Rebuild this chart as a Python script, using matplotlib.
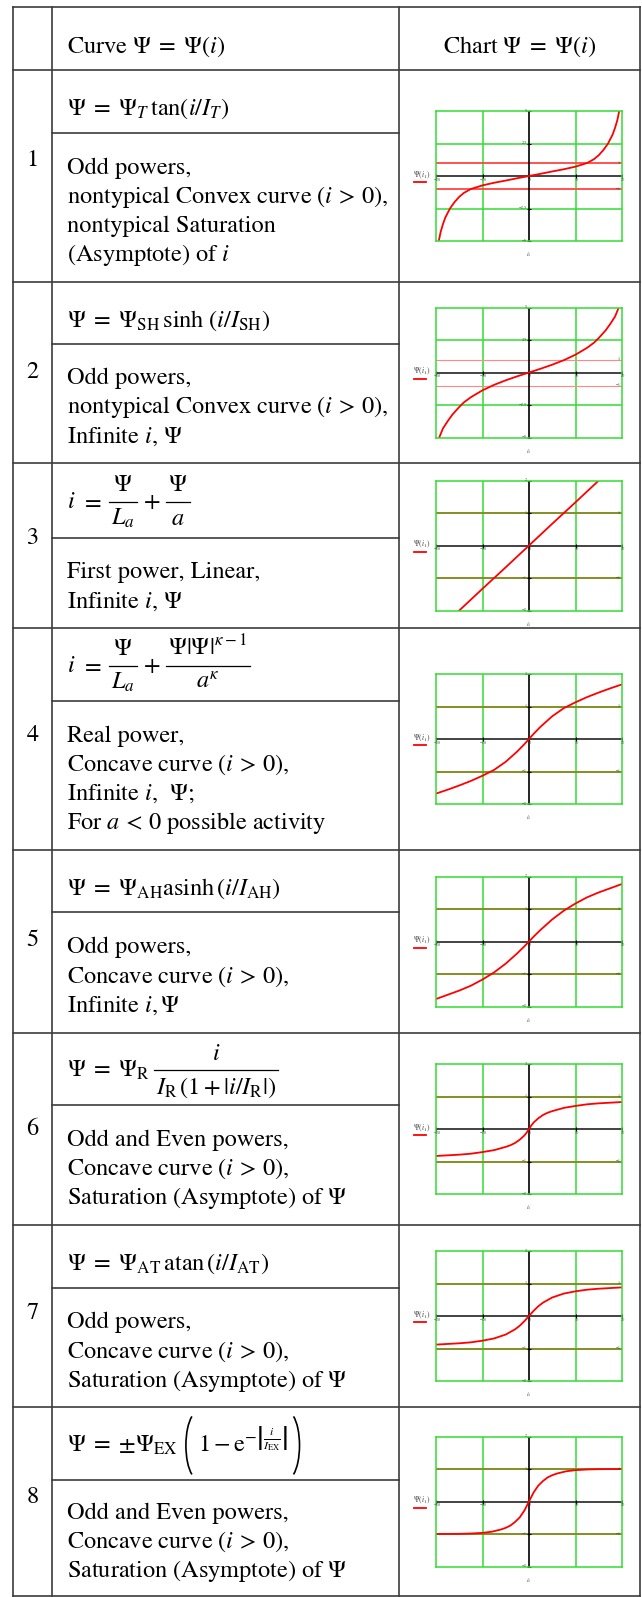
import matplotlib.pyplot as plt
from matplotlib.lines import Line2D
from matplotlib.patches import Arc
import numpy as np

plt.rcParams['font.family'] = ['STIXGeneral', 'DejaVu Serif']
plt.rcParams['mathtext.fontset'] = 'stix'

# ---- table text ----
header_curve = r'Curve $\Psi \;=\; \Psi(i)$'
header_chart = r'Chart $\Psi \;=\; \Psi(i)$'
row_numbers = ['1', '2', '3', '4', '5', '6', '7', '8']
# formulas as runs of pieces: plain math, spaces, fractions, big parentheses
formulas = [
    [('t', r'$\Psi \;=\; \Psi_T\,\tan(i/I_T)$')],
    [('t', r'$\Psi \;=\; \Psi_{\rm SH}\,\sinh\,(i/I_{\rm SH})$')],
    [('t', r'$i$'), ('sp', 6), ('t', r'$=$'), ('sp', 6), ('frac', r'$\Psi$', r'$L_a$'),
     ('sp', 5), ('t', r'$+$'), ('sp', 5), ('frac', r'$\Psi$', r'$a$')],
    [('t', r'$i$'), ('sp', 6), ('t', r'$=$'), ('sp', 6), ('frac', r'$\Psi$', r'$L_a$'),
     ('sp', 5), ('t', r'$+$'), ('sp', 5), ('frac', r'$\Psi|\Psi|^{\kappa-1}$', r'$a^{\kappa}$')],
    [('t', r'$\Psi \;=\; \Psi_{\rm AH}{\rm asinh}\,(i/I_{\rm AH})$')],
    [('t', r'$\Psi \;=\; \Psi_{\rm R}$'), ('sp', 3), ('frac', r'$i$', r'$I_{\rm R}\,(1+|i/I_{\rm R}|)$')],
    [('t', r'$\Psi \;=\; \Psi_{\rm AT}\,{\rm atan}\,(i/I_{\rm AT})$')],
    [('t', r'$\Psi \;=\; {\pm}\Psi_{\rm EX}$'), ('lp',),
     ('t', r'$1 - {\rm e}^{-\left|\frac{i}{I_{\rm EX}}\right|}$'), ('rp',)],
]
descriptions = [
    ['Odd powers,', r'nontypical Convex curve ($i\,>\,0$),', 'nontypical Saturation', r'(Asymptote) of $i$'],
    ['Odd powers,', r'nontypical Convex curve ($i\,>\,0$),', r'Infinite $i$, $\Psi$'],
    ['First power, Linear,', r'Infinite $i$, $\Psi$'],
    ['Real power,', r'Concave curve ($i\,>\,0$),', r'Infinite $i$,  $\Psi$;', r'For $a\,<\,0$ possible activity'],
    ['Odd powers,', r'Concave curve ($i\,>\,0$),', r'Infinite $i, \Psi$'],
    ['Odd and Even powers,', r'Concave curve ($i\,>\,0$),', r'Saturation (Asymptote) of $\Psi$'],
    ['Odd powers,', r'Concave curve ($i\,>\,0$),', r'Saturation (Asymptote) of $\Psi$'],
    ['Odd and Even powers,', r'Concave curve ($i\,>\,0$),', r'Saturation (Asymptote) of $\Psi$'],
]

# ---- curves ----
i_tan = [-19.4, -19, -18.5, -18, -17, -16, -15, -14, -12.5, -10, -7.5, -5, -2.5, 0,
         2.5, 5, 7.5, 10, 12.5, 14, 15, 16, 17, 18, 18.5, 19, 19.4]
psi_tan = [-5.0, -4.3, -3.7, -3.2, -2.5, -2.0, -1.6, -1.3, -1.0, -0.72, -0.52, -0.35, -0.17, 0,
           0.17, 0.35, 0.52, 0.72, 1.0, 1.3, 1.6, 2.0, 2.5, 3.2, 3.7, 4.3, 5.0]

i_sinh = [-19.3, -18.5, -17.5, -16.5, -15, -14, -12.5, -10, -7.5, -5, -2.5, 0,
          2.5, 5, 7.5, 10, 12.5, 14, 15, 16.5, 17.5, 18.5, 19.3]
psi_sinh = [-5.0, -4.3, -3.75, -3.25, -2.65, -2.3, -1.9, -1.37, -0.95, -0.6, -0.29, 0,
            0.29, 0.6, 0.95, 1.37, 1.9, 2.3, 2.65, 3.25, 3.75, 4.3, 5.0]

i_lin = [-15, -10, -5, 0, 5, 10, 15]
psi_lin = [-2.0, -1.33, -0.67, 0, 0.67, 1.33, 2.0]

i_pow = [-20, -17.5, -15, -12.5, -10, -7.5, -5, -2.5, -1, 0, 1, 2.5, 5, 7.5, 10, 12.5, 15, 17.5, 20]
psi_pow = [-1.68, -1.56, -1.43, -1.29, -1.13, -0.95, -0.7, -0.38, -0.16, 0,
           0.16, 0.38, 0.7, 0.95, 1.13, 1.29, 1.43, 1.56, 1.68]

i_asinh = [-20, -17.5, -15, -12.5, -10, -7.5, -5, -2.5, -1, 0, 1, 2.5, 5, 7.5, 10, 12.5, 15, 17.5, 20]
psi_asinh = [-1.77, -1.64, -1.51, -1.36, -1.17, -0.95, -0.68, -0.36, -0.15, 0,
             0.15, 0.36, 0.68, 0.95, 1.17, 1.36, 1.51, 1.64, 1.77]

i_rat = [-20, -17.5, -15, -12.5, -10, -7.5, -5, -4, -3, -2, -1, -0.5, 0,
         0.5, 1, 2, 3, 4, 5, 7.5, 10, 12.5, 15, 17.5, 20]
psi_rat = [-0.83, -0.81, -0.79, -0.76, -0.71, -0.65, -0.55, -0.5, -0.43, -0.33, -0.2, -0.11, 0,
           0.11, 0.2, 0.33, 0.43, 0.5, 0.55, 0.65, 0.71, 0.76, 0.79, 0.81, 0.83]

i_atan = [-20, -17.5, -15, -12.5, -10, -7.5, -5, -3, -2, -1, 0, 1, 2, 3, 5, 7.5, 10, 12.5, 15, 17.5, 20]
psi_atan = [-0.88, -0.86, -0.84, -0.81, -0.76, -0.69, -0.57, -0.41, -0.3, -0.16, 0,
            0.16, 0.3, 0.41, 0.57, 0.69, 0.76, 0.81, 0.84, 0.86, 0.88]

i_exp = [-20, -15, -12.5, -10, -8, -6, -5, -4, -3, -2, -1, 0, 1, 2, 3, 4, 5, 6, 8, 10, 12.5, 15, 20]
psi_exp = [-1.0, -0.995, -0.985, -0.965, -0.93, -0.86, -0.81, -0.74, -0.63, -0.49, -0.28, 0,
           0.28, 0.49, 0.63, 0.74, 0.81, 0.86, 0.93, 0.965, 0.985, 0.995, 1.0]

curves = [(i_tan, psi_tan), (i_sinh, psi_sinh), (i_lin, psi_lin), (i_pow, psi_pow),
          (i_asinh, psi_asinh), (i_rat, psi_rat), (i_atan, psi_atan), (i_exp, psi_exp)]
y_limits = [5, 5, 2, 2, 2, 2, 2, 2]
x_ticks = [-20, -10, 0, 10, 20]
x_tick_labels = ['\u221220', '\u221210', '0', '10', '20']
ref_levels = [1, -1]
ref_labels = ['1', '\u22121']

# ---- layout (pixels) ----
W, H = 642, 1597
col_x = [13, 52, 399, 640]
table_top, header_bottom = 7, 70
row_bounds = [70, 282, 463, 628, 850, 1033, 1225, 1407, 1596]
row_divs = [133, 344, 538, 701, 912, 1105, 1288, 1480]
number_y = [160, 372, 538, 735, 940, 1129, 1313, 1497]
baseline_shift = [13.5, 13.5, 7.5, 7.5, 13.5, 7.5, 13.5, 8]
LINE = '#3c3c3c'
GREEN = '#33dd33'
OLIVE = '#8a8a22'
FS = 17.5
EM = FS * 100 / 72

fig = plt.figure(figsize=(W / 100, H / 100), dpi=100)
bg = fig.add_axes([0, 0, 1, 1])
bg.set_xlim(0, W)
bg.set_ylim(H, 0)
bg.axis('off')
renderer = fig.canvas.get_renderer()


def width_of(t):
    return t.get_window_extent(renderer).width


def place_formula(x, yb, pieces):
    axis_y = yb - 0.25 * EM
    # big parenthesis: ellipse arc, parametric half-angle 60 deg
    pa, pb = 12, 33.5
    polar = np.degrees(np.arctan(pb / pa * np.tan(np.radians(60))))
    for p in pieces:
        if p[0] == 't':
            t = bg.text(x, yb, p[1], fontsize=FS, va='baseline')
            x += width_of(t)
        elif p[0] == 'sp':
            x += p[1]
        elif p[0] == 'frac':
            tn = bg.text(0, yb - 0.68 * EM, p[1], fontsize=FS, va='baseline', ha='center')
            td = bg.text(0, yb + 0.69 * EM, p[2], fontsize=FS, va='baseline', ha='center')
            w = max(width_of(tn), width_of(td)) + 4
            cx = x + 1 + w / 2
            tn.set_x(cx)
            td.set_x(cx)
            bg.plot([x + 1, x + 1 + w], [axis_y, axis_y], color='black', lw=0.9)
            x += w + 2
        elif p[0] == 'lp':
            x += 8
            bg.add_patch(Arc((x + pa, axis_y), 2 * pa, 2 * pb, theta1=180 - polar,
                             theta2=180 + polar, color='black', lw=1.2))
            x += 0.5 * pa + 6
        elif p[0] == 'rp':
            x += 6
            bg.add_patch(Arc((x - pa / 2, axis_y), 2 * pa, 2 * pb, theta1=-polar,
                             theta2=polar, color='black', lw=1.2))
            x += 0.5 * pa
    return x


# table grid
for x in col_x:
    bg.plot([x, x], [table_top, row_bounds[-1]], color=LINE, lw=1.2)
for y in [table_top] + row_bounds:
    bg.plot([col_x[0], col_x[-1]], [y, y], color=LINE, lw=1.2)
for y in row_divs:
    bg.plot([col_x[1], col_x[2]], [y, y], color=LINE, lw=1.2)

head_b = (table_top + header_bottom) / 2 + 14
bg.text(67, head_b, header_curve, fontsize=FS, va='baseline')
bg.text((col_x[2] + col_x[3]) / 2, head_b, header_chart, fontsize=FS, va='baseline', ha='center')

for k in range(8):
    top, bot, div = row_bounds[k], row_bounds[k + 1], row_divs[k]
    bg.text((col_x[0] + col_x[1]) / 2, number_y[k], row_numbers[k], fontsize=FS,
            ha='center', va='center')
    place_formula(67, (top + div) / 2 + baseline_shift[k], formulas[k])
    lines = descriptions[k]
    y0 = (div + bot) / 2 + 4 - 29 * (len(lines) - 1) / 2
    for j, s in enumerate(lines):
        bg.text(67, y0 + 29 * j, s, fontsize=FS, va='center')

# ---- charts ----
box_left, box_w, box_h = 436, 186, 130
for k in range(8):
    top, bot = row_bounds[k], row_bounds[k + 1]
    box_top = (top + bot) / 2 - box_h / 2
    ax = fig.add_axes([box_left / W, 1 - (box_top + box_h) / H, box_w / W, box_h / H])
    ym = y_limits[k]
    ax.set_xlim(-20, 20)
    ax.set_ylim(-ym, ym)
    ax.set_xticks([])
    ax.set_yticks([])
    ax.patch.set_alpha(0)
    for s in ax.spines.values():
        s.set_color(GREEN)
        s.set_linewidth(1.1)
    px_x = 40 / box_w
    px_y = 2 * ym / box_h

    if ym == 5:
        y_grid = [2.5, -2.5]
        y_ticks = [5, 2.5, -2.5, -5]
        y_tick_labels = ['5', '2.5', '\u22122.5', '\u22125']
        ref_color, ref_lw = ('#ff4444', 1.3) if k == 0 else ('#ff8888', 0.8)
    else:
        y_grid = [1, -1]
        y_ticks = [2, 1, -1, -2]
        y_tick_labels = ['2', '1', '\u22121', '\u22122']
        ref_color, ref_lw = OLIVE, 1.3

    for xg in [-10, 10]:
        ax.axvline(xg, color=GREEN, lw=1.1)
    for yg in y_grid:
        ax.axhline(yg, color=GREEN, lw=1.1)
    for r, lab in zip(ref_levels, ref_labels):
        ax.axhline(r, color=ref_color, lw=ref_lw)
        ax.text(19.3, r, lab, fontsize=3, ha='center', va='center', color='#333333')
    ax.axhline(0, color='#222222', lw=1.2)
    ax.axvline(0, color='black', lw=1.2)
    ax.plot(x_ticks, [0] * len(x_ticks), '|', color='black', ms=2.5, mew=0.8, clip_on=False)
    ax.plot([0] * len(y_ticks), y_ticks, '_', color='black', ms=2.5, mew=0.8, clip_on=False)

    for xt, lab in zip(x_ticks, x_tick_labels):
        ax.annotate(lab, xy=(xt, 0), xytext=(1, -2), textcoords='offset pixels',
                    fontsize=3, ha='center', va='top', color='#444444', annotation_clip=False)
    for yt, lab in zip(y_ticks, y_tick_labels):
        ax.annotate(lab, xy=(0, yt), xytext=(-2, 0), textcoords='offset pixels',
                    fontsize=3, ha='right', va='center', color='#444444', annotation_clip=False)

    xs, ys = curves[k]
    ax.plot(xs, ys, color='red', lw=1.3)

    # legend label and x label
    ax.annotate(r'$\Psi(i_1)$', xy=(-20, 0), xytext=(-14, 1), textcoords='offset pixels',
                fontsize=5.5, ha='center', va='center', color='#444444', annotation_clip=False)
    ax.add_line(Line2D([-20 - 22 * px_x, -20 - 10 * px_x], [-6 * px_y, -6 * px_y],
                       color='red', lw=1.3, clip_on=False))
    ax.annotate(r'$i_1$', xy=(0, -ym), xytext=(0, -14), textcoords='offset pixels',
                fontsize=4.5, ha='center', va='center', color='#444444', annotation_clip=False)

fig.savefig('out.png', dpi=100)
